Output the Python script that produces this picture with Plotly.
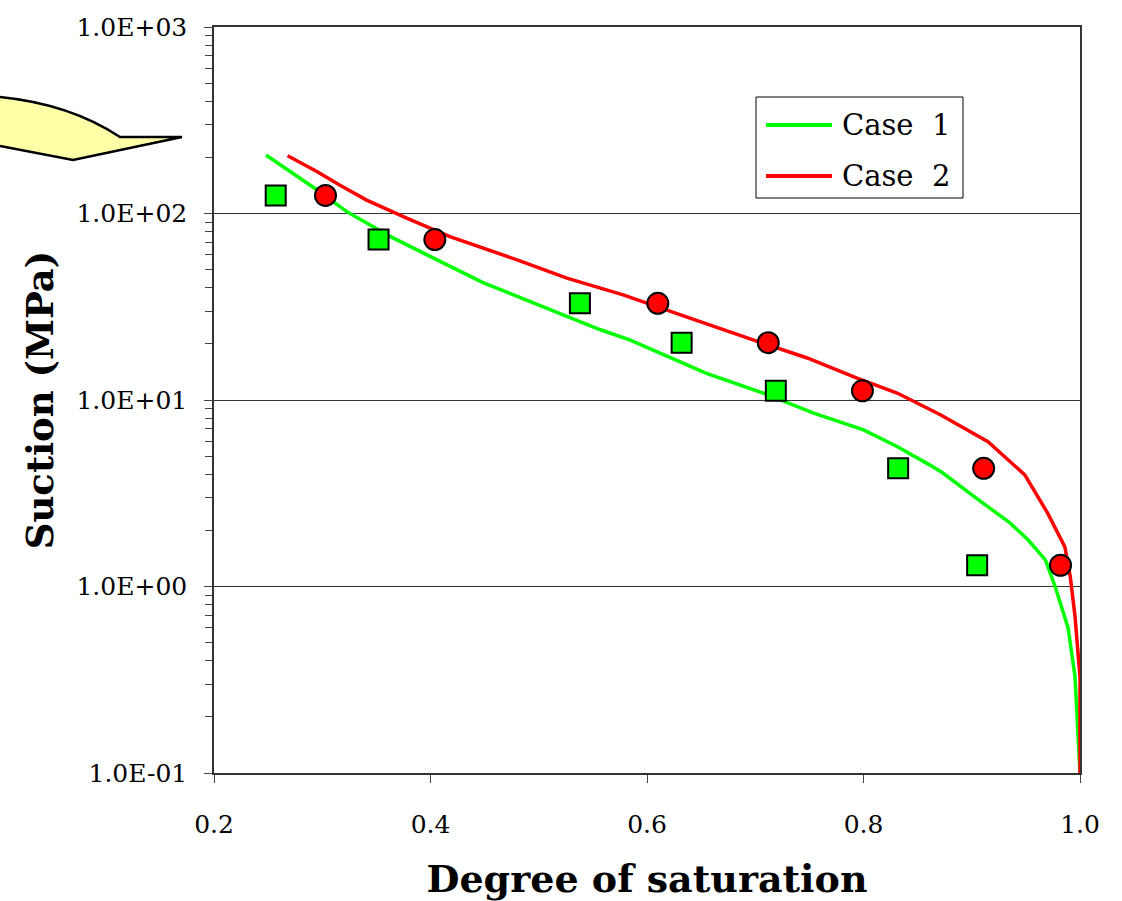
import plotly.graph_objects as go

# ---- data ----
case1_sat = [0.248, 0.295, 0.323, 0.363, 0.400, 0.449, 0.495, 0.557, 0.584, 0.655, 0.711,
             0.754, 0.800, 0.831, 0.861, 0.873, 0.910, 0.935, 0.952, 0.968, 0.977, 0.989,
             0.9954, 0.9982, 1.0]
case1_suction = [206, 134, 102, 75.2, 58.7, 42.5, 33.2, 23.8, 21.0, 13.9, 10.7,
                 8.5, 6.92, 5.63, 4.49, 4.07, 2.81, 2.20, 1.78, 1.39, 1.0, 0.60,
                 0.328, 0.165, 0.1]

case2_sat = [0.268, 0.295, 0.316, 0.341, 0.378, 0.418, 0.480, 0.526, 0.557, 0.578, 0.631,
             0.661, 0.698, 0.748, 0.794, 0.831, 0.861, 0.871, 0.915, 0.949, 0.970, 0.986,
             0.991, 0.9954, 1.0, 1.0]
case2_suction = [204, 168, 142, 118, 94.4, 75.2, 56.4, 45.0, 39.8, 36.6, 28.6,
                 24.8, 21.0, 16.8, 13.1, 10.9, 8.86, 8.33, 5.97, 3.97, 2.48, 1.63,
                 1.13, 0.69, 0.328, 0.1]

exp1_sat = [0.257, 0.352, 0.538, 0.632, 0.719, 0.832, 0.905]
exp2_sat = [0.303, 0.404, 0.610, 0.712, 0.799, 0.911, 0.982]
exp_suction = [125, 72.5, 33, 20.3, 11.2, 4.3, 1.3]

series_names = ["Case  1", "Case  2"]
y_tickvals = [0.1, 1, 10, 100, 1000]
y_ticktext = ["1.0E-01", "1.0E+00", "1.0E+01", "1.0E+02", "1.0E+03"]
x_tickvals = [0.2, 0.4, 0.6, 0.8, 1.0]
x_ticktext = ["0.2", "0.4", "0.6", "0.8", "1.0"]

GREEN = "#00FF00"
RED = "#FF0000"
FONT = "DejaVu Serif"

fig = go.Figure()
fig.add_trace(go.Scatter(x=case1_sat, y=case1_suction, mode="lines", name=series_names[0],
                         showlegend=False, line=dict(color=GREEN, width=3.5)))
fig.add_trace(go.Scatter(x=case2_sat, y=case2_suction, mode="lines", name=series_names[1],
                         showlegend=False, line=dict(color=RED, width=3.5)))
fig.add_trace(go.Scatter(x=exp1_sat, y=exp_suction, mode="markers", showlegend=False,
                         name="Case 1 data",
                         marker=dict(symbol="square", size=20, color=GREEN,
                                     line=dict(color="black", width=2))))
fig.add_trace(go.Scatter(x=exp2_sat, y=exp_suction, mode="markers", showlegend=False,
                         name="Case 2 data",
                         marker=dict(symbol="circle", size=21, color=RED,
                                     line=dict(color="black", width=2))))

# plot area in pixels (for decorations)
L, R, T, B = 214, 1080, 27, 773
W, H = 1122, 901


def px(x, y):
    return (x - L) / (R - L), (B - y) / (B - T)


# yellow callout (decoration, partly outside the plot)
pts = [(0, 97), (70, 104), (120, 137), (182, 137), (73, 160), (0, 146)]
p = [px(*q) for q in pts]
path = (f"M {p[0][0]},{p[0][1]} Q {p[1][0]},{p[1][1]} {p[2][0]},{p[2][1]} "
        f"L {p[3][0]},{p[3][1]} L {p[4][0]},{p[4][1]} L {p[5][0]},{p[5][1]}")
fig.add_shape(type="path", xref="paper", yref="paper", path=path,
              fillcolor="#FFFFA8", line=dict(color="black", width=2.5), layer="above")

# legend box drawn manually to match the long line samples
x0, y0 = px(756, 97)
x1, y1 = px(963, 198)
fig.add_shape(type="rect", xref="paper", yref="paper", x0=x0, y0=y0, x1=x1, y1=y1,
              fillcolor="white", line=dict(color="black", width=1), layer="above")
for i, (name, col) in enumerate(zip(series_names, [GREEN, RED])):
    ly = 125 + i * 51
    a0, b0 = px(766, ly)
    a1, _ = px(832, ly)
    fig.add_shape(type="line", xref="paper", yref="paper", x0=a0, y0=b0, x1=a1, y1=b0,
                  line=dict(color=col, width=4), layer="above")
    tx, _ = px(840, ly)
    fig.add_annotation(xref="paper", yref="paper", x=tx, y=b0, text=name,
                       showarrow=False, xanchor="left", yanchor="middle",
                       font=dict(family=FONT, size=29, color="black"))

fig.update_layout(
    width=W, height=H,
    margin=dict(l=L, r=W - R, t=T, b=H - B),
    plot_bgcolor="white", paper_bgcolor="white",
    font=dict(family=FONT, color="black", size=24),
    showlegend=False,
    xaxis=dict(range=[0.2, 1.0], tickvals=x_tickvals, ticktext=x_ticktext,
               ticks="outside", ticklen=8, tickcolor="#444", showgrid=False,
               showline=True, linecolor="#333", linewidth=1.5, mirror=True,
               zeroline=False, ticklabelstandoff=20, automargin=False,
               tickfont=dict(family=FONT, size=25),
               title=dict(text="<b>Degree of saturation</b>", standoff=30,
                          font=dict(family=FONT, size=38))),
    yaxis=dict(type="log", range=[-1, 3], tickvals=y_tickvals, ticktext=y_ticktext,
               ticks="outside", ticklen=8, tickcolor="#444",
               showgrid=True, gridcolor="#333", gridwidth=1,
               showline=True, linecolor="#333", linewidth=1.5, mirror=True,
               zeroline=False, ticklabelstandoff=12, automargin=False,
               minor=dict(ticks="outside", ticklen=7, tickcolor="#444", dtick="D1",
                          showgrid=False),
               tickfont=dict(family=FONT, size=25),
               title=dict(text="<b>Suction (MPa)</b>", standoff=12,
                          font=dict(family=FONT, size=37))),
)

fig.write_html("out.html")
